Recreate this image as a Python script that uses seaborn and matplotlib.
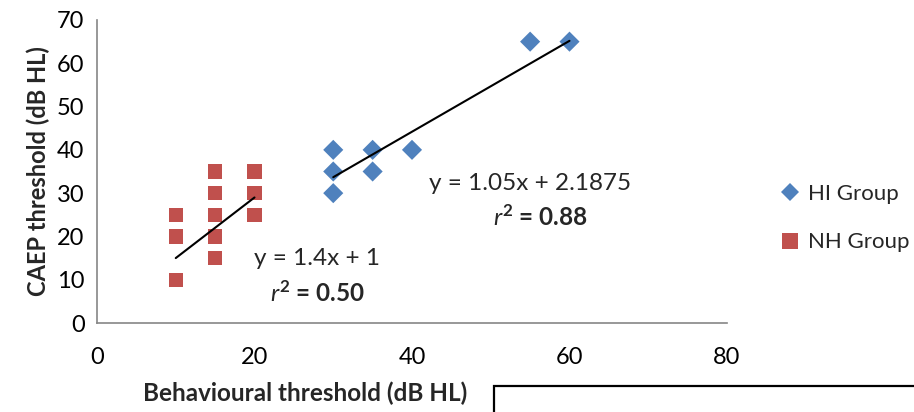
import matplotlib
matplotlib.use("Agg")
import matplotlib.pyplot as plt
import seaborn as sns
import pandas as pd
import numpy as np
from matplotlib.patches import Rectangle
from matplotlib.lines import Line2D

# Hearing-impaired group: behavioural vs CAEP thresholds (dB HL)
hi_behav = [30, 30, 30, 35, 35, 40, 55, 60]
hi_caep = [40, 35, 30, 40, 35, 40, 65, 65]
# Normal-hearing group
nh_behav = [10, 10, 10, 15, 15, 15, 15, 15, 20, 20, 20]
nh_caep = [25, 20, 10, 35, 30, 25, 20, 15, 35, 30, 25]

# Linear fits
hi_slope, hi_intercept, hi_r2 = 1.05, 2.1875, 0.88
nh_slope, nh_intercept, nh_r2 = 1.4, 1.0, 0.50

groups = ["HI Group", "NH Group"]
colors = {"HI Group": "#4F81BD", "NH Group": "#C0504D"}

df = pd.DataFrame({
    "behav": hi_behav + nh_behav,
    "caep": hi_caep + nh_caep,
    "group": ["HI Group"] * len(hi_behav) + ["NH Group"] * len(nh_behav),
})

sns.set_style("white")
plt.rcParams["font.family"] = ["Lato", "DejaVu Sans"]
plt.rcParams["mathtext.fontset"] = "custom"
plt.rcParams["mathtext.it"] = "Lato:italic"
plt.rcParams["mathtext.bf"] = "Lato:bold"
plt.rcParams["mathtext.rm"] = "Lato"

fig = plt.figure(figsize=(9.14, 4.12), dpi=100)
ax = fig.add_axes([97 / 914, 1 - 323 / 412, 630 / 914, 303 / 412])

sns.scatterplot(data=df, x="behav", y="caep", hue="group", style="group",
                hue_order=groups, style_order=groups, palette=colors,
                markers={"HI Group": "D", "NH Group": "s"},
                s=105, linewidth=0, ax=ax, legend=False, zorder=3)

# Trend lines over each group's range
for xs, m, b in [(hi_behav, hi_slope, hi_intercept), (nh_behav, nh_slope, nh_intercept)]:
    xx = np.array([min(xs), max(xs)])
    ax.plot(xx, m * xx + b, color="black", lw=1.5, zorder=4)

# Equation annotations
ax.text(55.0, 32.3, f"y = {hi_slope:g}x + {hi_intercept:g}", ha="center", va="center", fontsize=17.5)
ax.text(28.0, 14.8, f"y = {nh_slope:g}x + {nh_intercept:g}", ha="center", va="center", fontsize=17.5)
for xc, yc, r2 in [(56.3, 24.5, hi_r2), (28.0, 7.0, nh_r2)]:
    ax.text(xc, yc, rf"$\mathit{{r}}^\mathbf{{2}}$ = {r2:.2f}", ha="center", va="center",
            fontsize=17.5, fontweight="bold")

ax.set_xlim(0, 80)
ax.set_ylim(0, 70)
ax.set_xticks([0, 20, 40, 60, 80])
ax.set_yticks(range(0, 71, 10))
for side in ["top", "right"]:
    ax.spines[side].set_visible(False)
for side in ["left", "bottom"]:
    ax.spines[side].set_color("#868686")
    ax.spines[side].set_linewidth(1.2)
ax.tick_params(axis="both", colors="#868686", labelcolor="black", labelsize=17,
               direction="out", length=5, width=1.2)
ax.tick_params(axis="x", pad=12)
ax.tick_params(axis="y", pad=4)

ax.set_xlabel("")
ax.set_ylabel("CAEP threshold (dB HL)", fontsize=17, fontweight="bold", labelpad=5)
fig.text(305 / 914, 1 - 393 / 412, "Behavioural threshold (dB HL)", ha="center", va="center",
         fontsize=17.5, fontweight="bold")

# Legend
handles = [Line2D([], [], marker="D", ls="", color=colors["HI Group"], markersize=9, mew=0),
           Line2D([], [], marker="s", ls="", color=colors["NH Group"], markersize=11, mew=0)]
fig.legend(handles, groups, loc="center left", bbox_to_anchor=(779 / 914, 1 - 218 / 412),
           frameon=False, fontsize=16, labelspacing=1.3, handletextpad=0.3, handlelength=1.0,
           borderpad=0, borderaxespad=0)

# Box frame at the lower right
fig.patches.append(Rectangle((494 / 914, -0.2), 0.6, 0.2 + (412 - 386) / 412,
                             transform=fig.transFigure, fill=False, edgecolor="black",
                             lw=1.6, clip_on=False))

fig.savefig("out.png", dpi=100)
